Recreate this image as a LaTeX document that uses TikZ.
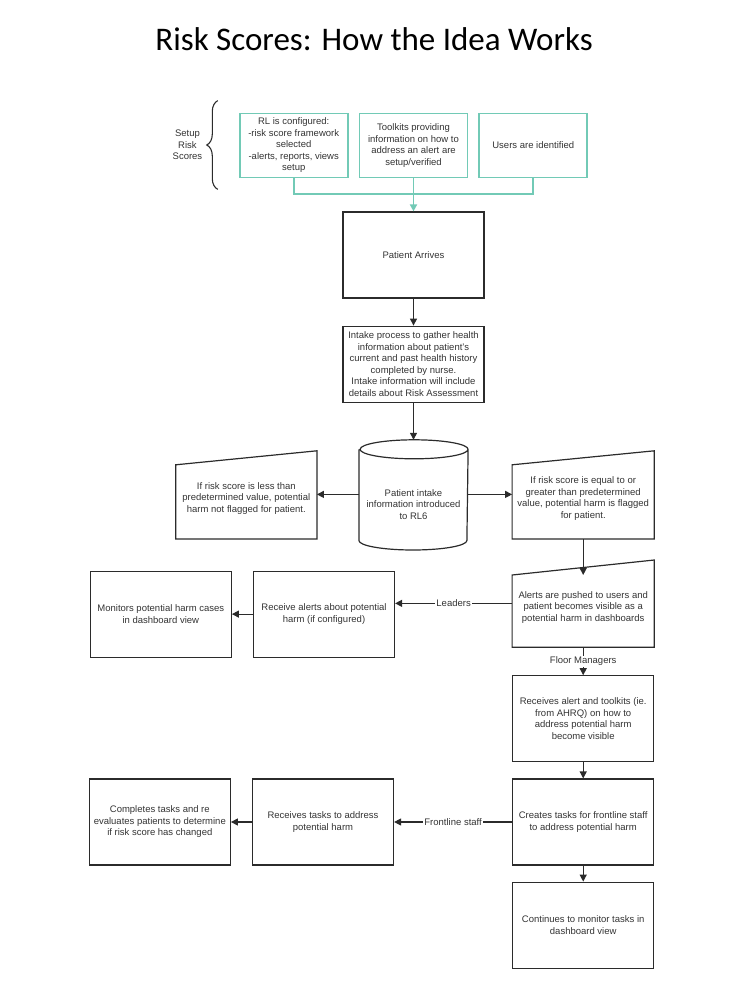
\documentclass[tikz,border=0pt]{standalone}
\usepackage{fontspec}
\setmainfont{Liberation Sans}
\newfontfamily\titlefont{Carlito}
\usepackage{tikz}
\usetikzlibrary{
  arrows.meta,
  positioning,
  calc,
  decorations.pathreplacing,
}
\definecolor{setupCol}{HTML}{72CAB6}
\definecolor{lineCol}{HTML}{2B2B2B}
\definecolor{textCol}{HTML}{333333}
\tikzset{
  setupbox/.style={
    rectangle, draw=setupCol, line width=1.8pt, inner sep=2pt,
    minimum width=108pt, minimum height=64pt,
    align=center, text=textCol, font=\fontsize{9.5}{11.5}\selectfont,
  },
  stepbox/.style={
    rectangle, draw=lineCol, line width=1.2pt, inner sep=2pt,
    minimum width=141pt, minimum height=86pt,
    align=center, text=textCol, font=\fontsize{9.5}{11.5}\selectfont,
  },
  slantbox/.style={
    stepbox, draw=none, minimum height=80pt,   % outline drawn by hand
  },
  drumbox/.style={
    stepbox, draw=none, minimum width=108pt, minimum height=90pt,
  },
  flowline/.style={
    line width=1.2pt, draw=lineCol,
  },
  arrowMed/.style={
    -{Triangle[length=7pt,width=7pt]}, line width=1.2pt, draw=lineCol,
  },
  lineSetup/.style={
    line width=1.8pt, draw=setupCol,
  },
  arrowSetup/.style={
    -{Triangle[length=7pt,width=7pt]}, line width=1.8pt, draw=setupCol,
    fill=setupCol,
  },
  edgelabel/.style={
    fill=white, inner sep=1pt, text=textCol,
    font=\fontsize{9.5}{11.5}\selectfont,
  },
}

\begin{document}
\begin{tikzpicture}[x=1pt, y=1pt]
\useasboundingbox (0,0) rectangle (750,-984);

\node[anchor=base, font=\titlefont\fontsize{33}{36}\selectfont, text=black]
  (title) at (374,-51) {Risk Scores: How the Idea Works};

% setup row
\node[stepbox] (arrives) at (413.5,-255) {Patient Arrives};
\node[setupbox, above=33pt of arrives] (s2) {Toolkits providing\\information on how to\\address an alert are\\setup/verified};
\node[setupbox, left=10pt of s2] (s1) {RL is configured:\\-risk score framework\\selected\\-alerts, reports, views\\setup};
\node[setupbox, right=10pt of s2] (s3) {Users are identified};

\draw[lineCol, line width=1.1pt, decorate, decoration={brace, amplitude=11pt}]
  ($(s1.south west)+(-21pt,-11pt)$) -- ($(s1.north west)+(-21pt,12pt)$)
  node[midway, left=15pt, inner sep=0pt, align=center, text=textCol,
       font=\fontsize{9.5}{11.5}\selectfont] (setuplbl) {Setup\\Risk\\Scores};

\draw[lineSetup] (s1.south) -- ++(0,-16pt) -| (s3.south);
\draw[arrowSetup] (s2.south) -- (arrives.north);

% intake
\node[stepbox, minimum height=76pt, below=27pt of arrives] (intake) {Intake process to gather health\\information about patient's\\current and past health history\\completed by nurse.\\Intake information will include\\details about Risk Assessment};

\node[drumbox, below=56pt of intake] (cyl) {Patient intake\\information introduced\\to RL6};
\draw[flowline] ([yshift=9.5pt]cyl.north west) -- ([yshift=9.5pt]cyl.south west)
  arc[start angle=180, end angle=360, x radius=54pt, y radius=9.5pt]
  -- ([yshift=9.5pt]cyl.north east)
  arc[start angle=0, end angle=360, x radius=54pt, y radius=9.5pt];

\node[slantbox, minimum width=140pt, left=42pt of cyl, yshift=6pt] (lowrisk) {If risk score is less than\\predetermined value, potential\\harm not flagged for patient.};
\node[slantbox, right=44pt of cyl, yshift=6pt] (highrisk) {If risk score is equal to or\\greater than predetermined\\value, potential harm is flagged\\for patient.};
\node[slantbox, minimum height=78.5pt, below=28.5pt of highrisk] (alerts) {Alerts are pushed to users and\\patient becomes visible as a\\potential harm in dashboards};

\draw[flowline] (lowrisk.south west) -- (lowrisk.south east)
  -- ([yshift=7pt]lowrisk.north east) -- ([yshift=-7pt]lowrisk.north west) -- cycle;
\draw[flowline] (highrisk.south west) -- (highrisk.south east)
  -- ([yshift=7pt]highrisk.north east) -- ([yshift=-7pt]highrisk.north west) -- cycle;
\draw[flowline] (alerts.south west) -- (alerts.south east)
  -- ([yshift=7.5pt]alerts.north east) -- ([yshift=-7.5pt]alerts.north west) -- cycle;

% leaders branch
\node[stepbox, left=117pt of alerts, yshift=-6.75pt] (rcvalerts) {Receive alerts about potential\\harm (if configured)};
\node[stepbox, left=21pt of rcvalerts] (monitors) {Monitors potential harm cases\\in dashboard view};

% floor managers branch
\node[stepbox, below=28pt of alerts] (rcvtoolkits) {Receives alert and toolkits (ie.\\from AHRQ) on how to\\address potential harm\\become visible};
\node[stepbox, below=16pt of rcvtoolkits] (creates) {Creates tasks for frontline staff\\to address potential harm};
\node[stepbox, below=16pt of creates] (continues) {Continues to monitor tasks in\\dashboard view};

% frontline staff branch
\node[stepbox, left=118pt of creates] (rcvtasks) {Receives tasks to address\\potential harm};
\node[stepbox, left=21pt of rcvtasks] (completes) {Completes tasks and re\\evaluates patients to determine\\if risk score has changed};

\draw[arrowMed] (arrives) -- (intake);
\draw[arrowMed] (intake) -- ([yshift=19pt]cyl.north);
\draw[arrowMed] ([yshift=10pt]cyl.west) -- ([yshift=10pt]cyl.west -| lowrisk.east);
\draw[arrowMed] ([yshift=10pt]cyl.east) -- ([yshift=10pt]cyl.east -| highrisk.west);
\draw[arrowMed] (highrisk.south) -- ([yshift=-7.5pt]alerts.north);
\draw[arrowMed] ([yshift=4pt]alerts.west) -- node[edgelabel] {Leaders}
                ([yshift=4pt]alerts.west -| rcvalerts.east);
\draw[arrowMed] (rcvalerts) -- (monitors);
\draw[arrowMed] (alerts) -- node[edgelabel] {Floor Managers} (rcvtoolkits);
\draw[arrowMed] (rcvtoolkits) -- (creates);
\draw[arrowMed] (creates) -- node[edgelabel] {Frontline staff} (rcvtasks);
\draw[arrowMed] (rcvtasks) -- (completes);
\draw[arrowMed] (creates) -- (continues);

\end{tikzpicture}
\end{document}
